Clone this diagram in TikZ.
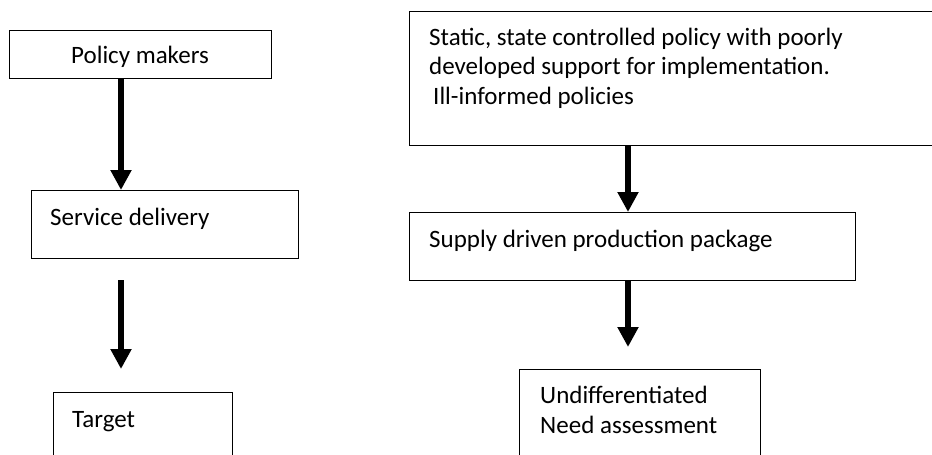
\documentclass[tikz,border=0pt]{standalone}
\usepackage{fontspec}
\setmainfont{Carlito}
\usetikzlibrary{arrows.meta}
\begin{document}
\begin{tikzpicture}[x=1pt,y=-1pt,
  box/.style={draw=black,line width=1.3pt,rectangle,inner sep=0pt,anchor=north west},
  txt/.style={inner sep=0pt,anchor=base west,align=left,font=\fontsize{25pt}{29.5pt}\selectfont},
  arr/.style={line width=6.5pt,-{Triangle[width=20pt,length=20pt]}}]
\useasboundingbox (0,0) rectangle (932,455);
\clip (0,0) rectangle (932,455);
% left column
\node[box,minimum width=262pt,minimum height=48pt] (b1) at (9,30) {};
\node[box,minimum width=267pt,minimum height=68pt] (b2) at (31,190) {};
\node[box,minimum width=179pt,minimum height=90pt] (b3) at (53,392) {};
\node[txt,anchor=base] (t1) at (140,63) {Policy makers};
\node[txt] (t2) at (50,225) {Service delivery};
\node[txt] (t3) at (72,427) {Target};
% right column
\node[box,minimum width=540pt,minimum height=134pt] (b4) at (409,11) {};
\node[box,minimum width=446pt,minimum height=68pt] (b5) at (409,212) {};
\node[box,minimum width=241pt,minimum height=100pt] (b6) at (519,369) {};
\node[txt] (t4) at (429,104) {Static, state controlled policy with poorly\\developed support for implementation.\\\hspace*{4pt}Ill-informed policies};
\node[txt] (t5) at (429,247) {Supply driven production package};
\node[txt] (t6) at (540,433) {Undifferentiated\\Need assessment};
% arrows
\coordinate (colL) at (121,0);
\coordinate (colR) at (628,0);
\coordinate (s2) at (121,280);
\coordinate (e2) at (121,369);
\coordinate (s4) at (628,281);
\coordinate (e4) at (628,347);
\draw[arr] (b1.south -| colL) -- (b2.north -| colL);
\draw[arr] (s2) -- (e2);
\draw[arr] (b4.south -| colR) -- (b5.north -| colR);
\draw[arr] (s4) -- (e4);
\end{tikzpicture}
\end{document}
